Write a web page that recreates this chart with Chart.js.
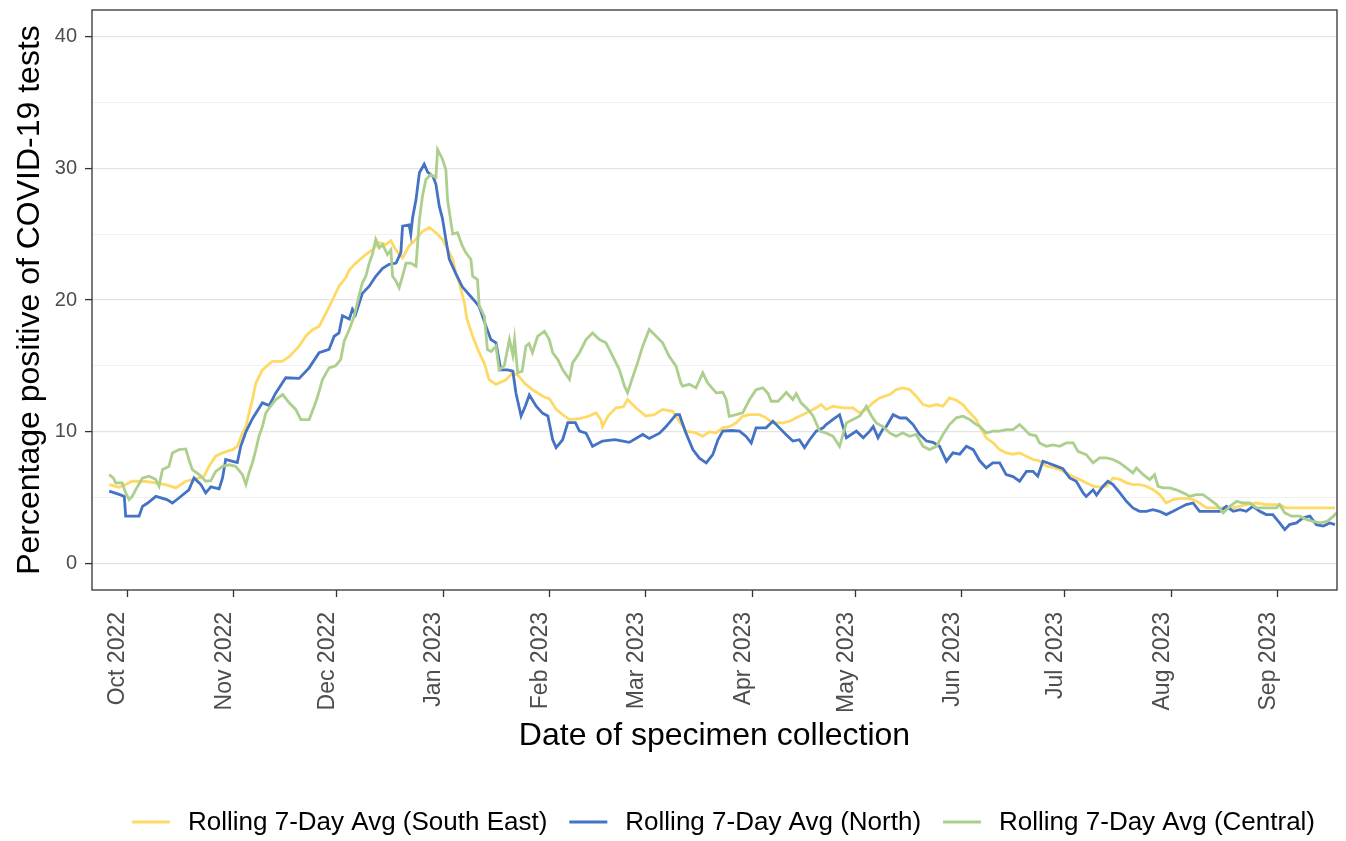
<!DOCTYPE html>
<html>
<head>
<meta charset="utf-8">
<script src="https://cdn.jsdelivr.net/npm/chart.js@4.4.0/dist/chart.umd.min.js"></script>
<style>
  html, body { margin: 0; padding: 0; background: #ffffff; }
  #wrap { width: 1346px; height: 841px; }
</style>
</head>
<body>
<div id="wrap"><canvas id="c" width="1346" height="841"></canvas></div>
<script>
// x values are days counted from 1 Oct 2022
const monthTicks = [0, 31, 61, 92, 123, 151, 182, 212, 243, 273, 304, 335];
const monthLabels = ['Oct 2022', 'Nov 2022', 'Dec 2022', 'Jan 2023', 'Feb 2023', 'Mar 2023',
  'Apr 2023', 'May 2023', 'Jun 2023', 'Jul 2023', 'Aug 2023', 'Sep 2023'];
const yTicks = [0, 5, 10, 15, 20, 25, 30, 35, 40];
const seriesNames = ['Rolling 7-Day Avg (South East)', 'Rolling 7-Day Avg (North)', 'Rolling 7-Day Avg (Central)'];

const southEastDays = [-5.2,-2.3,-0.4,1.5,5,8.3,11.2,14.2,17.1,19,21,22.4,23.9,25.8,27.8,30.7,32.1,33.6,34.6,35.5,36.5,37.5,39.4,42.3,45.2,47.2,50.1,52,54,55.9,57.9,59.8,61.7,63.7,64.7,66.6,69.5,71.4,73.4,75.3,76.8,77.8,78.8,80.2,82.1,84.1,86,88,89.9,91.8,93.8,94.8,95.7,96.7,98.2,98.9,100.6,102.5,104,105.4,107.4,110.3,112.2,113.7,116.1,118,121,123,124.9,126.8,128.8,131.7,134.6,136.5,137.9,138.4,140,142.3,144.5,145.7,148.1,151,153.5,155.9,158.8,160.8,162.7,165.6,167.6,169.5,171.5,173.4,175.4,177.3,179.2,181.2,184.1,186,188,190.9,192.9,194.8,196.7,198.7,200.6,202,203.5,205.5,208.4,211.3,213.2,215.2,217.1,219.1,222,223.9,225.8,227.8,229.7,231.7,233.6,235.6,237.5,239.4,241.4,243.3,245.3,247.2,248.2,250.1,252.1,254,255.9,257.9,259.8,261.8,263.7,265.6,267.6,269.6,271.5,273.4,275.4,277.3,279.2,281.2,283.1,285.1,287,289,290.9,292.8,294.8,296.7,298.7,300.6,302.5,304.5,306.4,308.3,310.3,312.2,314.2,321.9,325.8,328.7,331.6,335.5,337.4,351.6];
const southEastValues = [6.0,5.8,6.0,6.25,6.25,6.12,6.0,5.75,6.25,6.37,6.5,6.63,7.4,8.15,8.4,8.65,8.9,9.9,10.4,11.4,12.45,13.7,14.7,15.35,15.35,15.7,16.5,17.25,17.75,18.0,19.0,20.0,21.05,21.7,22.3,22.8,23.45,23.8,24.35,24.2,24.5,24.0,23.6,23.2,24.1,24.6,25.2,25.5,25.1,24.6,23.6,23.1,22.06,21.3,19.8,18.6,17.25,16.0,15.2,13.95,13.6,13.95,14.47,14.3,13.6,13.2,12.7,12.5,11.7,11.3,10.93,11.0,11.2,11.44,10.93,10.4,11.2,11.82,11.9,12.45,11.82,11.2,11.3,11.7,11.56,10.8,10.05,9.92,9.66,10.0,9.92,10.3,10.4,10.68,11.18,11.3,11.3,11.06,10.68,10.68,10.8,11.06,11.3,11.56,11.82,12.07,11.7,11.94,11.82,11.82,11.44,11.7,12.2,12.57,12.83,13.2,13.33,13.2,12.7,12.07,11.94,12.07,11.94,12.57,12.4,12.07,11.44,10.93,10.4,9.54,9.16,8.65,8.4,8.3,8.4,8.15,7.9,7.8,7.4,7.3,7.13,6.88,6.6,6.38,6.13,5.87,5.8,5.87,6.5,6.4,6.13,6.0,6.0,5.87,5.6,5.24,4.6,4.86,4.95,4.95,4.86,4.6,4.23,4.23,4.48,4.6,4.48,4.48,4.23,4.23];

const northDays = [-5.2,-2.3,-0.8,-0.4,3.5,4.5,6,8.4,11.6,13.2,15.1,18,19.5,21.5,22.9,24.4,26.8,27.8,28.7,30.2,32.1,33.1,34.6,36.5,39.4,41.4,43.3,46.2,50.1,53,55.9,58.8,60.3,61.7,62.7,64.7,65.6,66.5,68.5,70.5,72.4,74.4,76.3,78.3,79.7,80.2,82.1,82.6,83.1,84.1,85.1,86.5,87.5,89,89.9,90.9,91.8,92.8,93.8,95.7,97.6,99.6,101.6,102.5,104.5,105.9,107.4,108.8,110.8,112.3,113.2,114.7,116,117.1,119.1,121,122.5,123.9,124.9,126.8,128.3,130.5,131.7,133.6,135.5,138.4,142,146.2,150.1,152,155,156.9,159.8,160.8,162.7,164.7,166.6,168.6,170.5,172,173.4,176,178.3,180.2,181.7,183.1,186,188,189.9,191.8,193.8,195.7,197.2,198.7,200.6,202.6,203.5,205.5,207.4,208.4,209.4,212.3,214.3,216.2,217.2,218.6,220,221,223,225,226.8,228.8,230.7,232.7,234.6,236.5,238.5,240.4,242.4,244.3,246.3,248.2,250.1,252,254,255.9,257.9,259.8,261.8,263.7,265.1,266.6,268.5,270.5,272.4,274.4,276.3,278.3,279.2,281.2,282.2,284.1,285.5,287,289,290.9,292.8,294.7,296.7,298.6,300.5,302.5,304.5,306.4,308.3,310.3,312.2,318.1,320,322,324,325.8,327.7,329.7,331.6,333.5,335.5,337,338.4,340.4,342.3,344.3,346.2,348.2,350.1,351.6];
const northValues = [5.5,5.25,5.1,3.6,3.6,4.35,4.6,5.1,4.86,4.6,4.98,5.6,6.5,6.0,5.37,5.82,5.67,6.5,7.9,7.8,7.67,8.9,10.0,11.0,12.2,12.0,12.95,14.1,14.05,14.85,16.0,16.25,17.25,17.5,18.8,18.55,19.3,18.9,20.5,21.05,21.8,22.4,22.7,22.8,23.6,25.6,25.7,25.0,26.2,27.6,29.65,30.3,29.7,29.4,28.8,27.1,26.2,24.6,23.1,22.0,21.0,20.4,19.8,19.5,18.0,17.0,16.75,14.7,14.7,14.6,12.95,11.2,12.0,12.8,11.95,11.4,11.2,9.4,8.8,9.4,10.7,10.7,10.05,9.9,8.9,9.3,9.4,9.2,9.8,9.5,9.9,10.4,11.3,11.3,9.9,8.65,8.0,7.65,8.27,9.4,10.05,10.1,10.05,9.65,9.15,10.3,10.3,10.8,10.3,9.8,9.3,9.4,8.8,9.4,10.05,10.3,10.55,10.95,11.3,10.4,9.55,10.05,9.55,10.05,10.4,9.55,10.2,10.4,11.3,11.05,11.05,10.55,9.8,9.3,9.2,8.9,7.77,8.4,8.3,8.9,8.65,7.8,7.26,7.65,7.65,6.75,6.6,6.25,7.0,7.0,6.63,7.77,7.6,7.4,7.2,6.5,6.25,5.37,5.1,5.6,5.2,5.87,6.25,6.0,5.37,4.73,4.23,3.97,3.97,4.1,3.97,3.72,3.97,4.23,4.48,4.6,3.97,3.97,4.35,3.97,4.1,3.97,4.35,3.97,3.72,3.72,3.09,2.58,2.96,3.09,3.47,3.6,2.96,2.85,3.09,2.96];

const centralDays = [-5.2,-4,-3.3,-1.4,-0.4,0.6,1.5,2.5,4.5,6.4,8.3,9.3,10.3,12.2,13.2,15.1,17.1,18,19,21,22.9,24.4,25.8,27.8,29.7,31.6,33.6,34.6,35.5,36.5,37.5,38.4,39.4,40.4,41.8,43.3,45.3,47.2,49.1,50.6,53,54.5,55.5,56.9,58.8,60.7,62.2,63.2,64.7,66.1,67.6,68.5,69.5,70.5,71.4,72.4,73.4,74.4,75.8,76.8,77.3,78.3,79.2,80.2,81.2,82.6,84.1,85.1,86,87,88.4,89.9,90.4,91.8,92.8,93.3,94.8,96.2,97.6,98.6,100.1,100.6,102,102.5,104,104.9,106,107.4,108.3,109.8,111.3,112.3,112.8,113.7,115,116.1,117,118,119.5,121.5,122.9,123.9,125.4,126.8,128.8,129.7,131.7,133.6,135.5,137.5,139.4,141.4,143.3,144.8,145.7,147,148.6,150.1,152,154,155.9,157.8,159.8,161.2,161.7,163.7,165.6,167.6,169,171.5,173.4,174.4,175.3,177.3,179.2,181.2,183.1,185.1,186.6,187.5,189.5,190.9,191.9,193.8,194.8,196.2,198.2,199.7,201.6,203.6,205.5,207.4,209.4,211.3,213.3,215.2,216.7,218.1,220,222,223.9,225.8,227.8,229.7,231.7,233.6,235.6,237.5,239.4,241.4,243.3,245.3,247.2,248.2,250.1,252.1,254,255.9,257.9,259.8,261.3,262.7,264.6,265.6,267.6,269.5,271.5,273.4,275.4,276.8,279.2,281.2,283.1,285.1,287,289,290.9,292.8,293.8,295.8,297.7,299.1,300.1,301.6,303.5,305.4,307.4,309.3,311.3,313.2,315.2,317.1,319.1,321,323,324.9,326.8,328.8,332.7,334.6,335.5,337,339,341.4,343.4,345.3,347.3,349.3,351.2,352];
const centralValues = [6.75,6.5,6.13,6.13,5.37,4.86,5.1,5.6,6.5,6.63,6.4,5.87,7.13,7.38,8.4,8.65,8.7,7.9,7.13,6.75,6.25,6.3,7.0,7.38,7.5,7.38,6.75,6.0,6.88,7.65,8.65,9.66,10.4,11.44,11.94,12.45,12.83,12.2,11.7,10.93,10.93,11.94,12.7,13.97,14.85,15.0,15.48,16.87,17.76,18.77,20.4,21.3,21.8,22.8,23.45,24.6,23.96,24.2,23.45,23.8,21.8,21.43,20.93,21.8,22.8,22.8,22.56,26.1,27.9,29.15,29.5,29.3,31.4,30.7,29.9,27.6,25.0,25.1,24.1,23.6,23.07,21.8,21.55,19.6,18.77,16.24,16.1,16.5,14.7,15.0,17.0,15.8,17.0,14.47,14.6,16.5,16.7,16.0,17.25,17.63,17.0,16.0,15.48,14.72,13.97,15.23,16.0,17.0,17.5,17.0,16.75,15.73,14.72,13.46,12.96,14.0,15.23,16.5,17.76,17.25,16.75,15.73,14.98,13.71,13.46,13.6,13.33,14.47,13.71,12.96,13.0,12.45,11.18,11.3,11.44,12.45,13.2,13.33,12.9,12.32,12.32,12.7,13.0,12.45,12.9,12.2,11.7,11.2,10.05,9.9,9.66,8.9,10.68,10.93,11.2,11.94,11.2,10.68,10.4,9.92,9.66,9.92,9.66,9.8,8.9,8.65,8.9,9.8,10.55,11.06,11.18,10.93,10.55,10.42,9.92,10.05,10.05,10.17,10.17,10.55,10.17,9.8,9.7,9.16,8.9,9.0,8.9,9.16,9.16,8.52,8.27,7.64,8.02,8.02,7.9,7.64,7.26,6.88,7.26,6.75,6.38,6.75,5.87,5.75,5.75,5.6,5.37,5.11,5.24,5.24,4.86,4.48,3.85,4.35,4.73,4.6,4.6,4.23,4.23,4.23,4.48,3.85,3.6,3.6,3.34,3.2,3.09,3.2,3.6,3.85];

const seriesColors = ['#FFD966', '#4472C4', '#ADCF8E'];
const FONT = "'Liberation Sans', Arial, sans-serif";

function toPoints(days, values) {
  return days.map((d, i) => ({ x: d, y: values[i] }));
}

const panelBorder = {
  id: 'panelBorder',
  afterDatasetsDraw(chart) {
    const { ctx, chartArea: a } = chart;
    ctx.save();
    ctx.strokeStyle = '#333333';
    ctx.lineWidth = 1.3;
    ctx.strokeRect(a.left, a.top, a.right - a.left, a.bottom - a.top);
    ctx.restore();
  }
};

const bottomLegend = {
  id: 'bottomLegend',
  afterDraw(chart) {
    const { ctx, chartArea: a } = chart;
    ctx.save();
    ctx.font = '26px ' + FONT;
    ctx.textBaseline = 'middle';
    const lineW = 38, lineGap = 18, itemGap = 22;
    const widths = seriesNames.map(n => ctx.measureText(n).width);
    const total = widths.reduce((s, w) => s + lineW + lineGap + w, 0) + itemGap * (seriesNames.length - 1);
    let x = (a.left + a.right) / 2 + 9 - total / 2;
    const y = 822;
    seriesNames.forEach((name, i) => {
      ctx.strokeStyle = seriesColors[i];
      ctx.lineWidth = 3;
      ctx.beginPath();
      ctx.moveTo(x, y);
      ctx.lineTo(x + lineW, y);
      ctx.stroke();
      ctx.fillStyle = '#000000';
      ctx.textAlign = 'left';
      ctx.fillText(name, x + lineW + lineGap, y + 1);
      x += lineW + lineGap + widths[i] + itemGap;
    });
    ctx.restore();
  }
};

const datasets = [
  { label: seriesNames[0], data: toPoints(southEastDays, southEastValues), borderColor: seriesColors[0], order: 3 },
  { label: seriesNames[1], data: toPoints(northDays, northValues), borderColor: seriesColors[1], order: 2 },
  { label: seriesNames[2], data: toPoints(centralDays, centralValues), borderColor: seriesColors[2], order: 1 }
].map(d => Object.assign(d, { borderWidth: 2.8, pointRadius: 0, fill: false, tension: 0, stepped: false, backgroundColor: d.borderColor }));

new Chart(document.getElementById('c'), {
  type: 'line',
  data: { datasets },
  plugins: [panelBorder, bottomLegend],
  options: {
    responsive: false,
    animation: false,
    devicePixelRatio: 1,
    layout: { padding: { top: 10, right: 9, bottom: 0, left: 0 } },
    plugins: { legend: { display: false }, tooltip: { enabled: false } },
    scales: {
      x: {
        type: 'linear',
        min: -10.2,
        max: 352.2,
        afterBuildTicks: s => { s.ticks = monthTicks.map(v => ({ value: v })); },
        afterFit: s => { s.height = 251; s.paddingLeft = 0; s.paddingRight = 0; },
        border: { display: false },
        grid: { drawOnChartArea: false, drawTicks: true, tickLength: 7, tickColor: '#333333', tickWidth: 1.3 },
        ticks: {
          autoSkip: false,
          minRotation: 90,
          maxRotation: 90,
          padding: 15,
          labelOffset: -9,
          color: '#4d4d4d',
          font: { family: FONT, size: 23 },
          callback: (v) => { const i = monthTicks.indexOf(v); return i >= 0 ? monthLabels[i] : ''; }
        },
        title: {
          display: true,
          text: 'Date of specimen collection',
          color: '#000000',
          font: { family: FONT, size: 32 },
          padding: { top: 0, bottom: 86 }
        }
      },
      y: {
        type: 'linear',
        min: -2,
        max: 42,
        afterBuildTicks: s => { s.ticks = yTicks.map(v => ({ value: v })); },
        afterFit: s => { s.width = 92; s.paddingTop = 0; s.paddingBottom = 0; },
        border: { display: false },
        grid: {
          drawOnChartArea: true,
          drawTicks: true,
          tickLength: 7,
          color: ctx => (ctx.tick && ctx.tick.value % 10 === 0) ? '#e4e4e4' : '#eeeeee',
          lineWidth: ctx => (ctx.tick && ctx.tick.value % 10 === 0) ? 1.2 : 0.8,
          tickColor: ctx => (ctx.tick && ctx.tick.value % 10 === 0) ? '#333333' : 'rgba(0,0,0,0)',
          tickWidth: 1.3
        },
        ticks: {
          padding: 8,
          color: '#4d4d4d',
          font: { family: FONT, size: 20 },
          callback: (v) => (v % 10 === 0 ? String(v) : '')
        },
        title: {
          display: true,
          text: 'Percentage positive of COVID-19 tests',
          color: '#000000',
          font: { family: FONT, size: 32 },
          padding: { top: 11, bottom: 0 }
        }
      }
    }
  }
});
</script>
</body>
</html>
